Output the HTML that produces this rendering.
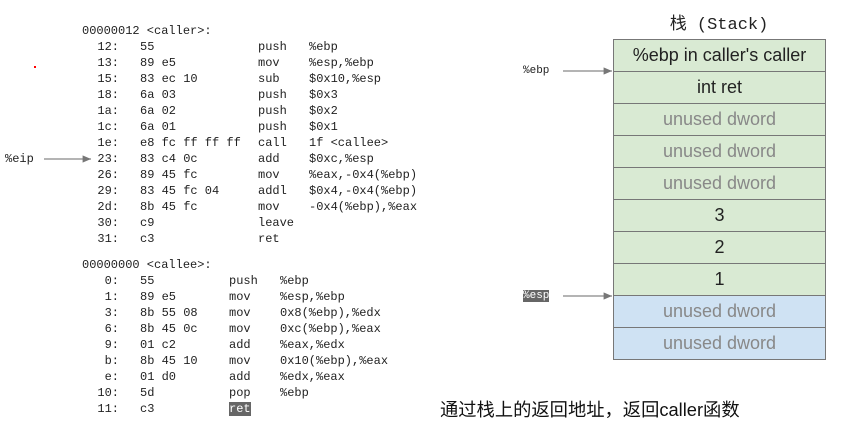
<!DOCTYPE html>
<html><head><meta charset="utf-8"><style>
body{margin:0;width:844px;height:431px;background:#fff;position:relative;overflow:hidden;font-family:"Liberation Mono",monospace;}
.r{position:absolute;font-size:12px;color:#222;white-space:pre;height:16px;line-height:16px;font-family:"Liberation Mono",monospace;}
.r span{position:absolute;top:0;}
.cell{position:absolute;left:613px;width:213px;height:33px;border:1px solid #777;box-sizing:border-box;display:flex;align-items:center;justify-content:center;font-family:"Liberation Sans",sans-serif;font-size:18px;color:#222;}
.g{background:#d9ead3}.b{background:#cfe2f3}.u{color:#888}
.hl{background:#666;color:#fff}
</style></head><body>
<div id="code"></div>
<div class="r" style="left:82px;top:23px">00000012 &lt;caller&gt;:</div>
<div class="r" style="left:82px;top:257px">00000000 &lt;callee&gt;:</div>
<script>
var c1=[["12:","55","push","%ebp"],["13:","89 e5","mov","%esp,%ebp"],["15:","83 ec 10","sub","$0x10,%esp"],["18:","6a 03","push","$0x3"],["1a:","6a 02","push","$0x2"],["1c:","6a 01","push","$0x1"],["1e:","e8 fc ff ff ff","call","1f <callee>"],["23:","83 c4 0c","add","$0xc,%esp"],["26:","89 45 fc","mov","%eax,-0x4(%ebp)"],["29:","83 45 fc 04","addl","$0x4,-0x4(%ebp)"],["2d:","8b 45 fc","mov","-0x4(%ebp),%eax"],["30:","c9","leave",""],["31:","c3","ret",""]];
var c2=[["0:","55","push","%ebp"],["1:","89 e5","mov","%esp,%ebp"],["3:","8b 55 08","mov","0x8(%ebp),%edx"],["6:","8b 45 0c","mov","0xc(%ebp),%eax"],["9:","01 c2","add","%eax,%edx"],["b:","8b 45 10","mov","0x10(%ebp),%eax"],["e:","01 d0","add","%edx,%eax"],["10:","5d","pop","%ebp"],["11:","c3","RET",""]];
function esc(s){return s.replace(/&/g,"&amp;").replace(/</g,"&lt;").replace(/>/g,"&gt;");}
var h="";
function put(rows,top,mx,ox){rows.forEach(function(r,i){var t=top+i*16;
h+='<div class="r" style="left:0;top:'+t+'px;width:500px">'+
'<span style="right:'+(500-119)+'px">'+esc(r[0])+'</span>'+
'<span style="left:140px">'+esc(r[1])+'</span>'+
'<span style="left:'+mx+'px">'+(r[2]=="RET"?'<b class="hl" style="font-weight:normal">ret</b>':esc(r[2]))+'</span>'+
'<span style="left:'+ox+'px">'+esc(r[3])+'</span></div>';});}
put(c1,39,258,309);put(c2,273,229,280);
document.getElementById("code").innerHTML=h;
</script>
<div class="r" style="left:5px;top:151px">%eip</div>
<div style="position:absolute;left:34px;top:66px;width:2px;height:2px;background:red"></div>
<svg width="844" height="431" style="position:absolute;left:0;top:0">
<defs><marker id="a" markerWidth="8" markerHeight="8" refX="7" refY="4" orient="auto"><path d="M0,1 L7,4 L0,7z" fill="#777"/></marker></defs>
<line x1="44" y1="159" x2="91" y2="159" stroke="#888" stroke-width="1.2" marker-end="url(#a)"/>
<line x1="563" y1="71" x2="612" y2="71" stroke="#888" stroke-width="1.2" marker-end="url(#a)"/>
<line x1="563" y1="296" x2="612" y2="296" stroke="#888" stroke-width="1.2" marker-end="url(#a)"/>
</svg>
<div class="r" style="left:523px;top:63px;font-size:11px">%ebp</div>
<div class="r" style="left:523px;top:288px;font-size:11px"><span class="hl" style="position:static">%esp</span></div>
<div style="position:absolute;left:619px;top:9px;width:200px;text-align:center;font-size:17px;font-family:'Liberation Mono','Noto Sans CJK SC',monospace;color:#222">栈 (Stack)</div>
<div class="cell g" style="top:39px">%ebp in caller's caller</div>
<div class="cell g" style="top:71px">int ret</div>
<div class="cell g u" style="top:103px">unused dword</div>
<div class="cell g u" style="top:135px">unused dword</div>
<div class="cell g u" style="top:167px">unused dword</div>
<div class="cell g" style="top:199px">3</div>
<div class="cell g" style="top:231px">2</div>
<div class="cell g" style="top:263px">1</div>
<div class="cell b u" style="top:295px">unused dword</div>
<div class="cell b u" style="top:327px">unused dword</div>
<div style="position:absolute;left:440px;top:396px;font-size:18.3px;font-family:'Liberation Sans','Noto Sans CJK SC',sans-serif;color:#111">通过栈上的返回地址，返回caller函数</div>
</body></html>
